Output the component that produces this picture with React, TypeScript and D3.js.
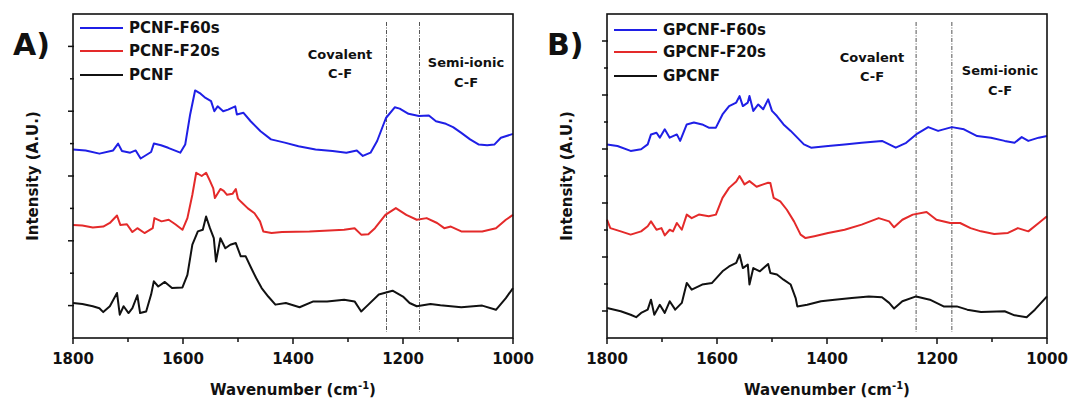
import React from "react";
import * as d3 from "d3";

type Pt = [number, number];

// ---- Panel A data (wavenumber, intensity a.u.) ----
const aF60s: Pt[] = [[1800,5.82],[1777,5.79],[1752,5.69],[1727,5.79],[1718,6.0],[1711,5.77],[1696,5.72],[1686,5.79],[1677,5.54],[1658,5.74],[1653,6.0],[1640,5.95],[1627,5.87],[1605,5.72],[1596,5.97],[1587,6.9],[1578,7.64],[1568,7.54],[1559,7.41],[1549,7.31],[1543,7.0],[1537,7.15],[1527,7.0],[1518,7.05],[1505,7.15],[1502,6.9],[1490,6.95],[1477,6.69],[1459,6.38],[1440,6.13],[1415,6.03],[1390,5.92],[1359,5.82],[1328,5.77],[1303,5.72],[1284,5.79],[1273,5.62],[1259,5.72],[1247,6.08],[1231,6.79],[1215,7.12],[1206,7.08],[1190,6.92],[1171,6.85],[1153,6.87],[1140,6.69],[1122,6.61],[1109,6.51],[1094,6.33],[1078,6.13],[1062,5.97],[1047,5.95],[1034,5.97],[1022,6.18],[1000,6.3]];
const aF20s: Pt[] = [[1800,3.49],[1783,3.47],[1764,3.41],[1745,3.44],[1733,3.55],[1720,3.78],[1714,3.49],[1702,3.51],[1692,3.27],[1683,3.39],[1670,3.24],[1655,3.39],[1652,3.7],[1639,3.6],[1626,3.65],[1614,3.51],[1601,3.34],[1592,3.7],[1583,4.42],[1576,5.1],[1566,5.0],[1558,5.1],[1551,4.85],[1545,4.62],[1542,4.32],[1532,4.6],[1526,4.54],[1520,4.42],[1510,4.45],[1504,4.6],[1500,4.3],[1495,4.21],[1482,4.0],[1470,3.85],[1460,3.6],[1454,3.29],[1439,3.24],[1420,3.27],[1370,3.29],[1307,3.34],[1288,3.39],[1276,3.19],[1263,3.2],[1251,3.39],[1232,3.8],[1213,4.01],[1194,3.8],[1175,3.65],[1157,3.7],[1138,3.55],[1125,3.39],[1113,3.44],[1094,3.29],[1056,3.29],[1031,3.39],[1013,3.65],[1000,3.8]];
const aBase: Pt[] = [[1800,1.08],[1783,1.05],[1764,0.98],[1752,0.92],[1745,0.8],[1733,0.98],[1720,1.39],[1715,0.72],[1708,0.98],[1699,0.77],[1692,0.92],[1683,1.32],[1678,0.77],[1667,0.82],[1658,1.34],[1653,1.75],[1645,1.59],[1633,1.73],[1620,1.54],[1601,1.56],[1592,1.95],[1583,2.88],[1573,3.29],[1564,3.34],[1558,3.75],[1551,3.39],[1544,3.08],[1540,2.36],[1532,3.08],[1523,2.77],[1514,2.88],[1504,2.93],[1495,2.52],[1486,2.52],[1476,2.16],[1467,1.85],[1457,1.54],[1445,1.28],[1432,1.03],[1413,1.08],[1388,0.95],[1363,1.13],[1338,1.13],[1307,1.18],[1288,1.13],[1276,0.82],[1263,1.03],[1244,1.34],[1219,1.46],[1200,1.28],[1188,1.08],[1175,0.98],[1150,1.05],[1132,1.01],[1094,0.95],[1056,1.0],[1031,0.87],[1013,1.23],[1000,1.54]];

// ---- Panel B data ----
const bF60s: Pt[] = [[1800,7.17],[1781,7.11],[1757,6.93],[1738,6.99],[1726,7.17],[1720,7.54],[1710,7.6],[1704,7.42],[1695,7.73],[1686,7.42],[1673,7.54],[1667,7.3],[1655,7.91],[1642,7.98],[1627,7.91],[1615,7.79],[1602,7.79],[1590,8.28],[1578,8.59],[1565,8.72],[1559,8.96],[1553,8.59],[1544,8.72],[1541,8.96],[1534,8.41],[1525,8.65],[1516,8.47],[1507,8.84],[1500,8.41],[1491,8.22],[1479,7.91],[1466,7.67],[1454,7.42],[1442,7.17],[1429,7.05],[1398,7.11],[1368,7.17],[1337,7.23],[1300,7.3],[1287,7.17],[1275,7.05],[1256,7.23],[1238,7.54],[1216,7.81],[1198,7.67],[1173,7.81],[1151,7.73],[1127,7.48],[1102,7.42],[1077,7.3],[1059,7.23],[1046,7.44],[1034,7.3],[1015,7.42],[1000,7.48]];
const bF20s: Pt[] = [[1800,4.38],[1794,4.07],[1775,3.95],[1757,3.83],[1738,3.95],[1726,4.14],[1720,4.32],[1710,4.01],[1701,4.07],[1695,3.8],[1686,4.01],[1680,3.95],[1673,4.26],[1664,4.01],[1655,4.57],[1646,4.44],[1633,4.57],[1615,4.51],[1602,4.57],[1590,5.19],[1578,5.56],[1565,5.8],[1559,6.0],[1550,5.69],[1541,5.81],[1528,5.6],[1516,5.69],[1507,5.75],[1503,5.74],[1497,5.19],[1485,5.06],[1473,4.75],[1460,4.32],[1448,3.83],[1439,3.7],[1423,3.77],[1398,3.89],[1368,4.01],[1337,4.2],[1306,4.44],[1287,4.32],[1278,4.1],[1263,4.38],[1244,4.57],[1219,4.67],[1201,4.38],[1176,4.26],[1158,4.26],[1139,4.07],[1120,3.95],[1096,3.85],[1071,3.89],[1053,4.07],[1034,3.95],[1015,4.26],[1000,4.51]];
const bBase: Pt[] = [[1800,1.11],[1775,0.99],[1757,0.86],[1747,0.77],[1738,0.93],[1726,1.05],[1720,1.42],[1714,0.86],[1704,1.23],[1695,0.93],[1686,1.36],[1676,1.05],[1664,1.3],[1655,2.04],[1646,1.79],[1627,1.98],[1609,2.04],[1590,2.47],[1578,2.65],[1565,2.78],[1559,3.09],[1553,2.59],[1544,2.72],[1541,1.98],[1534,2.59],[1522,2.47],[1507,2.74],[1503,2.41],[1491,2.35],[1479,2.16],[1466,1.98],[1457,1.48],[1454,1.17],[1436,1.23],[1411,1.36],[1386,1.42],[1355,1.48],[1324,1.54],[1300,1.51],[1287,1.3],[1278,1.09],[1263,1.36],[1238,1.54],[1213,1.42],[1188,1.17],[1164,1.17],[1145,1.05],[1120,0.96],[1077,0.99],[1059,0.84],[1037,0.77],[1022,1.05],[1000,1.54]];

const xMajorTicks = [1800, 1600, 1400, 1200, 1000];
const xMinorTicks = [1700, 1500, 1300, 1100];
const aNames = ["PCNF-F60s", "PCNF-F20s", "PCNF"];
const bNames = ["GPCNF-F60s", "GPCNF-F20s", "GPCNF"];
const aMarkers = [1230, 1170];
const bMarkers = [1238, 1173];
const colors = ["#1f1fe6", "#e42a2a", "#111111"];
const FONT = "'DejaVu Sans', Verdana, sans-serif";

interface PanelProps {
  left: number; right: number; top: number; bottom: number;
  yMax: number; label: string; names: string[]; series: Pt[][]; markers: number[];
  cov: [number, number]; semi: [number, number];
  legendY: number[];
}

function Panel(p: PanelProps) {
  const x = d3.scaleLinear().domain([1800, 1000]).range([p.left, p.right]);
  const y = d3.scaleLinear().domain([0, p.yMax]).range([p.bottom, p.top]);
  const line = d3.line<Pt>().x(d => x(d[0])).y(d => y(d[1]));
  const yTicks = d3.range(1, p.yMax);
  const cx = (p.left + p.right) / 2;
  return (
    <g fontFamily={FONT} fontWeight="bold" fill="#111">
      {/* marker dashed lines */}
      {p.markers.map((m, i) => (
        <line key={"m" + i} x1={x(m)} x2={x(m)} y1={p.top + 8} y2={p.bottom - 6}
          stroke="#555" strokeWidth={1} strokeDasharray="4,1.5,1,1.5" />
      ))}
      {/* series */}
      {p.series.map((s, i) => (
        <path key={"s" + i} d={line(s) || ""} fill="none" stroke={colors[i]} strokeWidth={2} strokeLinejoin="round" />
      ))}
      {/* frame */}
      <rect x={p.left} y={p.top} width={p.right - p.left} height={p.bottom - p.top}
        fill="none" stroke="#111" strokeWidth={1.6} />
      {/* x ticks */}
      {xMajorTicks.map(t => (
        <g key={"xt" + t}>
          <line x1={x(t)} x2={x(t)} y1={p.bottom} y2={p.bottom + 6} stroke="#111" strokeWidth={1.5} />
          <text x={x(t)} y={p.bottom + 26} textAnchor="middle" fontSize={15}>{t}</text>
        </g>
      ))}
      {xMinorTicks.map(t => (
        <line key={"xm" + t} x1={x(t)} x2={x(t)} y1={p.bottom} y2={p.bottom + 4} stroke="#111" strokeWidth={1.5} />
      ))}
      {/* y ticks */}
      {yTicks.map(t => (
        <line key={"yt" + t} x1={p.left - (t % 2 === 1 ? 5 : 3)} x2={p.left + 1} y1={y(t)} y2={y(t)} stroke="#111" strokeWidth={1.5} />
      ))}
      {/* axis titles */}
      <text x={cx} y={p.bottom + 57} textAnchor="middle" fontSize={15}>
        Wavenumber (cm<tspan dy={-6} fontSize={10}>-1</tspan><tspan dy={6}>)</tspan>
      </text>
      <text transform={`translate(${p.left - 40},${(p.top + p.bottom) / 2}) rotate(-90)`} textAnchor="middle"
        dominantBaseline="central" fontSize={15}>Intensity (A.U.)</text>
      {/* panel label */}
      <text x={p.left - 60} y={55} fontSize={30}>{p.label}</text>
      {/* legend */}
      {p.names.map((n, i) => (
        <g key={"lg" + i}>
          <line x1={p.left + 7} x2={p.left + 50} y1={p.legendY[i]} y2={p.legendY[i]} stroke={colors[i]} strokeWidth={2} />
          <text x={p.left + 56} y={p.legendY[i]} dominantBaseline="central" fontSize={15}>{n}</text>
        </g>
      ))}
      {/* annotations */}
      <text x={p.cov[0]} y={p.cov[1]} textAnchor="middle" fontSize={13}>Covalent</text>
      <text x={p.cov[0]} y={p.cov[1] + 19} textAnchor="middle" fontSize={13}>C-F</text>
      <text x={p.semi[0]} y={p.semi[1]} textAnchor="middle" fontSize={13}>Semi-ionic</text>
      <text x={p.semi[0]} y={p.semi[1] + 20} textAnchor="middle" fontSize={13}>C-F</text>
    </g>
  );
}

export default function App() {
  return (
    <svg width={1072} height={407} style={{ position: "absolute", left: 0, top: 0, background: "#fff" }}>
      <rect x={0} y={0} width={1072} height={407} fill="#fff" />
      <Panel left={73} right={513} top={14} bottom={338} yMax={10} label="A)" names={aNames}
        series={[aF60s, aF20s, aBase]} markers={aMarkers} cov={[340, 59]} semi={[466, 67]} legendY={[28, 51, 75]} />
      <Panel left={607} right={1047} top={14} bottom={338} yMax={12} label="B)" names={bNames}
        series={[bF60s, bF20s, bBase]} markers={bMarkers} cov={[872, 62]} semi={[1000, 75]} legendY={[30, 52, 76]} />
    </svg>
  );
}
